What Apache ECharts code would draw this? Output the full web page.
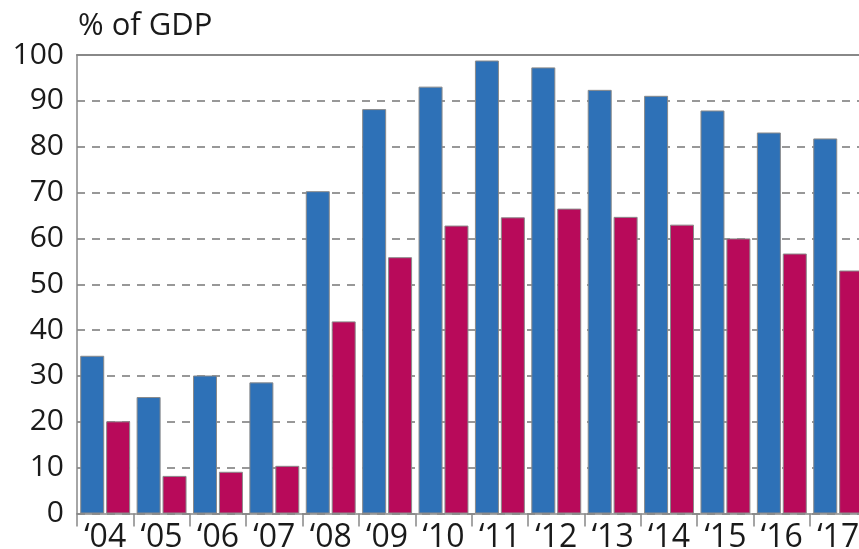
<!DOCTYPE html>
<html>
<head>
<meta charset="utf-8">
<script src="https://cdn.jsdelivr.net/npm/echarts@6/dist/echarts.min.js"></script>
<style>
html,body{margin:0;padding:0;background:#fff;}
#chart{width:859px;height:549px;}
</style>
</head>
<body>
<div id="chart"></div>
<script>
var categories = ['\u201804','\u201805','\u201806','\u201807','\u201808','\u201809','\u201810','\u201811','\u201812','\u201813','\u201814','\u201815','\u201816','\u201817'];
var seriesBlue = [34.4, 25.4, 30.1, 28.6, 70.3, 88.2, 93.1, 98.8, 97.3, 92.4, 91.1, 87.9, 83.1, 81.8];
var seriesRed = [20.1, 8.2, 9.1, 10.4, 41.9, 55.9, 62.8, 64.6, 66.5, 64.7, 63.0, 60.0, 56.7, 53.0];
var yTicks = [0, 10, 20, 30, 40, 50, 60, 70, 80, 90, 100];
var unitLabel = '% of GDP';

var chart = echarts.init(document.getElementById('chart'), null, {renderer: 'canvas'});
var fontFam = '"Open Sans", "Noto Sans", sans-serif';
chart.setOption({
  animation: false,
  backgroundColor: '#ffffff',
  title: {
    text: unitLabel,
    left: 73, top: 6,
    textStyle: {fontFamily: fontFam, fontSize: 31, fontWeight: 'normal', color: '#1a1a1a'}
  },
  grid: {left: 77, top: 55, height: 458.5, width: 789.4, containLabel: false, outerBoundsMode: 'none'},
  xAxis: [{
    type: 'category',
    data: categories,
    boundaryGap: true,
    axisLine: {show: true, lineStyle: {color: '#888', width: 1.5}},
    axisTick: {show: true, length: 13, lineStyle: {color: '#888', width: 1.5}},
    axisLabel: {fontFamily: fontFam, fontSize: 32, color: '#1a1a1a', margin: 8, interval: 0},
    splitLine: {show: false}
  }, {
    type: 'category',
    position: 'top',
    data: categories,
    axisLine: {show: true, lineStyle: {color: '#888', width: 2}},
    axisTick: {show: false},
    axisLabel: {show: false}
  }],
  yAxis: {
    type: 'value',
    min: yTicks[0], max: yTicks[yTicks.length - 1], interval: 10,
    axisLine: {show: true, lineStyle: {color: '#888', width: 1.5}},
    axisTick: {show: false},
    axisLabel: {fontFamily: fontFam, fontSize: 30, color: '#1a1a1a', margin: 13},
    splitLine: {show: true, lineStyle: {color: '#777', width: 1.5, type: [8, 7]}}
  },
  series: [{
    type: 'bar',
    data: seriesBlue,
    barWidth: 24,
    barGap: '8%',
    itemStyle: {color: '#2e71b7', borderColor: '#8a8a8a', borderWidth: 1}
  }, {
    type: 'bar',
    data: seriesRed,
    barWidth: 24,
    itemStyle: {color: '#b80a5a', borderColor: '#8a8a8a', borderWidth: 1}
  }]
});
</script>
</body>
</html>
